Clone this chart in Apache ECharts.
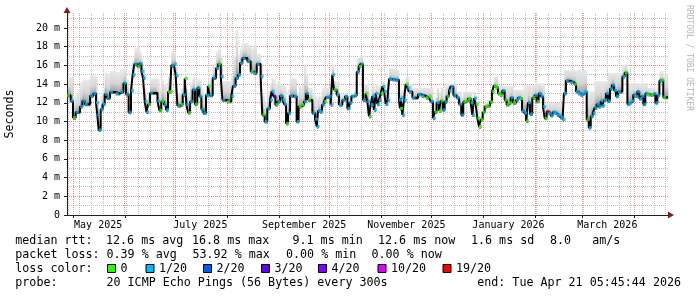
<!DOCTYPE html>
<html><head><meta charset="utf-8">
<script src="https://cdn.jsdelivr.net/npm/echarts@6/dist/echarts.min.js"></script>
<style>html,body{margin:0;padding:0;background:#fff}#c{width:697px;height:297px}</style>
</head><body><div id="c"></div>
<script>
// ---- data (days counted from 2025-05-01 00:00 UTC) ----
const startDay = -3.6;
const endDay = 355.24;
const days = [-3.6,-1.4,0.0,1.6,4.2,5.6,7.0,10.2,12.1,13.7,14.5,15.3,16.5,17.7,18.9,20.1,22.1,25.5,28.1,30.1,31.6,33.2,34.6,35.6,36.6,38.4,39.6,40.8,41.8,42.8,43.8,44.8,46.0,50.4,51.5,52.7,54.3,55.5,56.7,57.9,58.7,60.3,61.3,62.3,64.3,65.5,66.7,67.7,68.7,69.9,71.4,72.8,74.2,75.4,76.6,77.8,79.4,80.6,81.4,83.4,
85.4,86.6,88.2,89.2,92.1,94.5,95.5,97.1,98.5,99.7,101.1,104.1,106.1,107.7,109.7,112.0,113.0,114.4,116.0,117.6,118.6,119.6,120.8,122.0,123.6,125.0,126.0,127.2,128.4,129.6,131.9,133.5,134.7,136.3,137.9,139.1,140.3,142.9,144.5,145.5,146.3,147.5,148.7,149.9,151.0,152.6,153.8,154.8,155.8,157.4,158.8,160.8,162.4,163.8,165.0,166.2,167.8,169.4,170.6,171.7,173.1,
174.7,175.7,176.7,177.7,178.7,179.7,180.7,181.7,182.7,183.7,184.7,185.7,186.7,187.7,188.7,190.7,192.6,194.6,195.2,195.6,196.6,197.6,198.6,199.6,200.6,202.6,206.0,208.0,210.6,212.5,213.5,214.9,215.9,217.1,218.5,219.5,220.7,221.9,223.1,224.5,225.5,227.1,229.1,230.5,231.8,233.0,234.4,235.8,237.4,238.4,239.4,240.4,241.4,242.4,243.4,244.6,245.8,247.0,249.0,250.2,251.3,252.3,253.7,254.9,256.3,257.7,258.9,260.1,261.3,262.7,
264.5,265.7,266.9,268.1,269.3,270.5,271.6,272.8,274.2,275.6,276.8,278.0,279.2,280.6,281.6,282.8,284.0,285.2,286.4,287.6,288.8,290.0,291.1,292.3,293.1,294.3,297.1,299.1,300.3,301.5,303.1,304.3,305.5,306.7,307.9,309.1,310.3,311.4,312.6,313.8,315.0,316.0,317.0,318.2,319.4,320.6,321.8,323.0,324.2,325.4,328.0,329.4,331.0,332.1,333.3,334.5,335.7,336.9,338.1,339.3,340.5,341.7,342.9,344.9,346.5,347.7,348.9,350.1,351.2,352.4];
const median = [12.8,12.2,10.4,11.0,11.6,12.2,11.85,12.75,13.0,12.0,10.7,9.1,11.3,11.85,12.9,12.5,13.15,13.0,13.2,14.1,12.9,11.0,13.3,15.0,16.15,15.9,16.2,15.35,14.65,12.15,11.0,11.85,13.05,12.2,11.2,12.15,11.8,11.25,13.15,13.2,16.0,16.15,14.9,11.7,11.8,12.85,14.6,11.8,10.95,12.15,13.4,11.85,13.6,12.7,11.3,10.9,12.8,13.8,12.8,14.65,
15.7,16.15,14.8,12.3,12.15,12.7,13.8,14.65,15.0,16.25,16.8,16.45,15.35,15.2,16.15,14.8,10.7,10.0,11.4,12.3,13.2,12.7,11.8,12.15,12.75,12.3,11.85,9.8,10.9,12.75,12.7,10.0,11.6,11.8,12.15,13.0,12.3,10.9,10.25,9.45,11.15,11.05,11.8,12.15,12.6,12.7,11.8,15.0,13.4,12.85,11.8,12.3,12.7,11.4,12.0,12.7,12.8,15.3,15.9,16.15,12.3,
13.0,12.15,10.55,11.8,12.7,11.25,13.0,11.85,12.3,13.0,13.75,13.2,11.85,12.3,14.55,14.5,14.45,12.3,11.4,12.5,10.7,12.3,14.0,13.6,13.2,12.55,12.9,12.75,12.55,12.7,12.15,10.35,11.0,12.0,11.15,12.2,11.25,12.1,12.7,13.3,13.75,12.8,12.55,11.85,10.7,12.1,12.2,12.45,12.0,10.7,12.5,11.85,10.35,9.45,10.2,11.0,11.6,11.7,12.1,13.2,13.85,13.65,13.0,12.85,13.3,12.3,11.8,12.0,12.55,12.0,
12.3,12.55,12.45,11.15,10.9,10.05,12.0,10.8,12.55,12.8,12.15,13.0,12.7,11.6,10.35,11.05,10.9,10.65,11.0,10.9,10.7,10.65,10.45,10.2,13.0,14.35,14.2,14.0,13.2,13.0,12.85,13.0,13.2,10.2,9.35,10.55,10.9,11.45,11.85,11.6,12.2,11.7,12.3,13.0,12.2,13.5,13.9,13.3,12.7,13.2,14.8,15.2,11.85,12.0,12.2,12.85,12.7,13.2,12.45,12.7,11.85,13.0,12.9,12.85,13.0,12.0,12.8,14.35,14.45,12.6];
// packets lost out of 20
const loss = [0,1,0,1,1,1,1,1,1,1,1,1,1,1,1,1,1,1,1,1,1,1,1,1,1,0,1,1,1,1,1,0,1,1,0,0,1,1,0,0,1,1,1,1,0,1,0,1,0,1,1,0,1,1,1,1,1,0,1,1,
1,0,1,1,0,1,1,1,1,1,1,1,0,1,1,1,0,1,1,1,1,3,0,1,1,1,1,0,1,1,1,1,0,0,1,1,0,1,1,1,1,1,1,0,1,1,1,1,0,1,1,1,1,1,1,1,1,1,0,1,1,
0,1,0,1,1,1,1,1,1,0,1,1,1,1,1,1,1,1,0,1,1,1,0,1,1,1,1,1,0,0,1,1,0,1,0,0,1,1,0,1,1,1,1,1,1,0,0,0,1,1,1,0,0,0,0,0,0,0,0,0,0,0,0,0,1,0,0,0,1,0,
1,1,0,1,1,0,1,1,0,1,0,1,1,1,0,19,1,1,1,1,1,1,1,1,1,1,1,0,1,1,1,1,1,0,1,1,1,1,1,1,1,1,1,1,1,1,1,1,1,1,1,0,1,1,1,1,1,1,1,1,1,1,0,0,1,1,1,1,0,0];
// top of the smoke (slowest ping), ms
const smokeMax = [14.8,14.8,12.6,13.0,14.2,14.4,14.5,15.0,14.9,14.8,12.5,10.5,12.8,13.5,15.2,15.0,15.4,15.3,15.5,15.6,14.5,12.5,14.0,16.5,17.8,18.2,17.5,16.8,15.8,13.5,12.5,13.2,14.6,14.6,13.5,14.5,14.0,13.8,14.8,15.5,17.5,17.3,16.0,13.0,13.5,14.3,15.2,13.5,12.8,14.2,14.8,14.0,14.6,14.5,13.5,13.0,14.0,14.8,14.5,16.2,
17.5,17.7,17.0,14.3,14.3,15.0,17.0,19.8,17.2,17.8,18.4,18.2,17.8,18.2,17.2,16.5,12.8,12.0,13.3,14.0,14.6,14.5,14.0,14.3,14.0,13.9,13.8,12.5,13.5,14.6,14.6,13.0,13.8,13.8,16.1,15.0,13.6,13.0,12.7,12.5,12.7,12.7,13.6,13.6,13.6,13.6,13.6,16.2,14.3,14.3,12.85,12.9,12.9,12.8,12.9,13.0,13.3,16.8,17.0,17.0,14.0,
14.0,14.0,12.5,13.5,14.0,13.5,14.0,13.8,14.0,14.0,14.2,14.0,13.5,14.0,15.7,15.7,15.5,13.4,13.0,13.4,12.5,13.4,14.8,14.8,14.0,13.6,13.6,13.6,13.6,13.6,13.6,12.0,12.5,13.6,13.0,13.6,13.0,13.6,14.0,14.0,14.0,14.0,13.2,13.2,12.5,13.2,13.2,13.2,13.2,12.5,13.2,12.5,11.0,10.0,10.8,11.5,12.0,12.3,12.5,14.0,14.8,14.8,13.8,13.8,13.8,13.8,13.8,13.8,13.8,13.4,
13.4,13.4,13.4,13.4,13.9,13.9,13.9,13.9,13.9,14.1,14.1,14.1,14.1,14.1,12.0,12.0,12.0,12.0,12.0,12.0,12.0,12.0,12.0,11.0,15.5,15.5,15.5,15.5,15.5,15.5,15.5,15.5,15.5,13.2,13.2,13.2,13.2,14.3,14.3,14.3,14.3,14.3,14.3,14.3,15.2,15.2,15.2,15.2,15.2,15.2,16.1,16.1,14.1,14.1,14.1,14.1,14.1,14.1,14.1,14.1,14.1,14.1,13.6,13.6,13.6,13.6,13.6,15.35,15.35,15.0];
const monthStarts = ['2025-05-01','2025-06-01','2025-07-01','2025-08-01','2025-09-01','2025-10-01','2025-11-01','2025-12-01','2026-01-01','2026-02-01','2026-03-01','2026-04-01'];
const labelDates = ['2025-05-16','2025-07-16','2025-09-16','2025-11-16','2026-01-16','2026-03-16'];
const labelTexts = ['May 2025','July 2025','September 2025','November 2025','January 2026','March 2026'];
const firstWeek = '2025-04-28';
const yLabels = [0,2,4,6,8,10,12,14,16,18,20];
const yMinor = [1,3,5,7,9,11,13,15,17,19,21];
const lossLevels = [0,1,2,3,4,10,19];
const lossNames = ['0','1/20','2/20','3/20','4/20','10/20','19/20'];
const lossColors = ['#26ff00','#00b8ff','#0059ff','#5e00ff','#7e00ff','#dd00ff','#ff0000'];

// ---- build ----
const DAY = 86400000;
const BASE = Date.UTC(2025, 4, 1);
const T = d => BASE + d * DAY;
const P = s => { const [y, m, d] = s.split('-').map(Number); return Date.UTC(y, m - 1, d); };
const tMin = T(startDay), tMax = T(endDay);
const monthTs = monthStarts.map(P);
const labelTs = labelDates.map(P);
const weekTs = [];
for (let w = P(firstWeek); w < tMax; w += 7 * DAY) if (w > tMin) weekTs.push(w);
const colorOf = l => lossColors[lossLevels.indexOf(l)];

const ends = days.slice(1).concat([endDay]);
const smokeData = days.map((d, i) => [T(d), T(ends[i]), median[i], Math.max(smokeMax[i], median[i])]);
const lineData = days.map((d, i) => [T(d), median[i]]).concat([[T(endDay), median[median.length - 1]]]);
const lossData = days.map((d, i) => ({ value: [T(d), median[i]], itemStyle: { color: colorOf(loss[i]) } }));

const MINOR = '#bdbdbd';
const MAJOR = '#e88a8a';
function gridSeries(name, data, color, vertical) {
  return {
    name, type: 'custom', z: 1, silent: true, clip: false, encode: { x: 0, y: 1 }, data,
    renderItem: (params, api) => {
      const cs = params.coordSys;
      const p = api.coord([api.value(0), api.value(1)]);
      const st = { stroke: color, lineWidth: 1, lineDash: [1, 1], opacity: 1 };
      if (vertical) {
        const x = Math.floor(p[0]) + 0.5;
        return { type: 'line', shape: { x1: x, y1: cs.y, x2: x, y2: cs.y + cs.height }, style: st };
      }
      const y = Math.floor(p[1]) + 0.5;
      return { type: 'line', shape: { x1: cs.x, y1: y, x2: cs.x + cs.width, y2: y }, style: st };
    }
  };
}

const MONO = 'DejaVu Sans Mono';
const chart = echarts.init(document.getElementById('c'), null, { renderer: 'canvas' });

const legendY = 269;
const sqX = [107, 145.5, 203, 261, 318, 377.5, 442.5];
const F = '11.68px ' + MONO;
const txt = (x, y, s, extra) => ({ type: 'text', x, y, silent: true, style: Object.assign({ text: s, font: F, fill: '#000', verticalAlign: 'middle' }, extra || {}) });
const graphics = [
  { type: 'text', x: 689, y: 5, rotation: -Math.PI / 2, silent: true, style: { text: 'RRDTOOL / TOBI OETIKER', font: '8px ' + MONO, fill: '#b4b4b4', align: 'left', verticalAlign: 'middle' } },
  txt(15.3, 241, 'median rtt:'), txt(106, 241, '12.6 ms avg'), txt(192, 241, '16.8 ms max'), txt(292.5, 241, '9.1 ms min'),
  txt(378, 241, '12.6 ms now'), txt(471, 241, '1.6 ms sd'), txt(550, 241, '8.0   am/s'),
  txt(15.3, 255, 'packet loss:'), txt(106.5, 255, '0.39 % avg'), txt(192.5, 255, '53.92 % max'), txt(286, 255, '0.00 % min'), txt(371.5, 255, '0.00 % now'),
  txt(15.3, legendY, 'loss color:'),
  txt(15.3, 283, 'probe:'), txt(106.5, 283, '20 ICMP Echo Pings (56 Bytes) every 300s'),
  txt(681, 283, 'end: Tue Apr 21 05:45:44 2026', { align: 'right' })
];
lossNames.forEach((n, i) => {
  graphics.push({ type: 'rect', silent: true, shape: { x: sqX[i] + 0.5, y: legendY - 4.5, width: 8, height: 8 }, style: { fill: lossColors[i], stroke: '#000', lineWidth: 1 } });
  graphics.push(txt(sqX[i] + 13.5, legendY, n));
});

const option = {
  animation: false,
  backgroundColor: '#ffffff',
  grid: { left: 67, right: 29, top: 13, bottom: 82, containLabel: false, outerBoundsMode: 'none' },
  xAxis: [
    {
      type: 'value', min: tMin, max: tMax, z: 2,
      axisLine: { show: true, lineStyle: { color: '#1f1f1f', width: 1 } },
      axisTick: { show: true, customValues: monthTs, length: 3, lineStyle: { color: '#1f1f1f' } },
      axisLabel: { show: true, customValues: labelTs, margin: 5, fontFamily: MONO, fontSize: 10, color: '#000',
        formatter: v => { const i = labelTs.indexOf(v); return i >= 0 ? labelTexts[i] : ''; } },
      splitLine: { show: false }
    },
    {
      type: 'value', min: 0, max: 1, z: 1, position: 'bottom',
      axisLine: { show: true, symbol: ['none', 'triangle'], symbolSize: [7, 6], symbolOffset: [0, 3], lineStyle: { color: '#801f1f' } },
      axisTick: { show: false }, axisLabel: { show: false }, splitLine: { show: false }
    }
  ],
  yAxis: [
    {
      type: 'value', min: 0, max: 21.6, z: 2, position: 'left',
      name: 'Seconds', nameLocation: 'middle', nameGap: 51, nameRotate: 90,
      nameTextStyle: { fontFamily: MONO, fontSize: 11.68, color: '#000' },
      axisLine: { show: true, lineStyle: { color: '#1f1f1f', width: 1 } },
      axisTick: { show: true, customValues: yLabels, length: 3, lineStyle: { color: '#1f1f1f' } },
      axisLabel: { show: true, customValues: yLabels, margin: 7, fontFamily: MONO, fontSize: 10, color: '#000',
        formatter: v => v === 0 ? '0' : v + ' m' },
      splitLine: { show: false }
    },
    {
      type: 'value', min: 0, max: 1, z: 1, position: 'left', offset: 0,
      axisLine: { show: true, symbol: ['none', 'triangle'], symbolSize: [7, 6], symbolOffset: [0, 3], lineStyle: { color: '#801f1f' } },
      axisTick: { show: false }, axisLabel: { show: false }, splitLine: { show: false }
    }
  ],
  series: [
    gridSeries('weeks', weekTs.map(v => [v, 0]), MINOR, true),
    gridSeries('minorY', yMinor.map(v => [tMin, v]), MINOR, false),
    gridSeries('majorY', yLabels.filter(v => v > 0).map(v => [tMin, v]), MAJOR, false),
    gridSeries('months', monthTs.map(v => [v, 0]), MAJOR, true),
    {
      name: 'smoke', type: 'custom', z: 2, silent: true,
      encode: { x: [0, 1], y: [2, 3] },
      data: smokeData,
      renderItem: (params, api) => {
        const a = api.coord([api.value(0), api.value(3)]);
        const b = api.coord([api.value(1), api.value(2)]);
        return {
          type: 'rect',
          shape: { x: a[0], y: a[1], width: b[0] - a[0] + 0.3, height: b[1] - a[1] + 2 },
          style: { fill: new echarts.graphic.LinearGradient(0, 0, 0, 1, [
            { offset: 0, color: '#e8e8e8' }, { offset: 0.5, color: '#d6d6d6' },
            { offset: 0.85, color: '#a4a4a4' }, { offset: 1, color: '#5a5a5a' }]) }
        };
      }
    },
    {
      name: 'median', type: 'line', step: 'end', z: 3, silent: true, symbol: 'none',
      lineStyle: { color: '#000', width: 2 }, data: lineData
    },
    {
      name: 'loss', type: 'scatter', z: 4, silent: true, symbol: 'rect', symbolSize: [3, 3], symbolOffset: [1.5, 0],
      data: lossData
    }
  ],
  graphic: graphics
};
chart.setOption(option);
</script>
</body></html>
